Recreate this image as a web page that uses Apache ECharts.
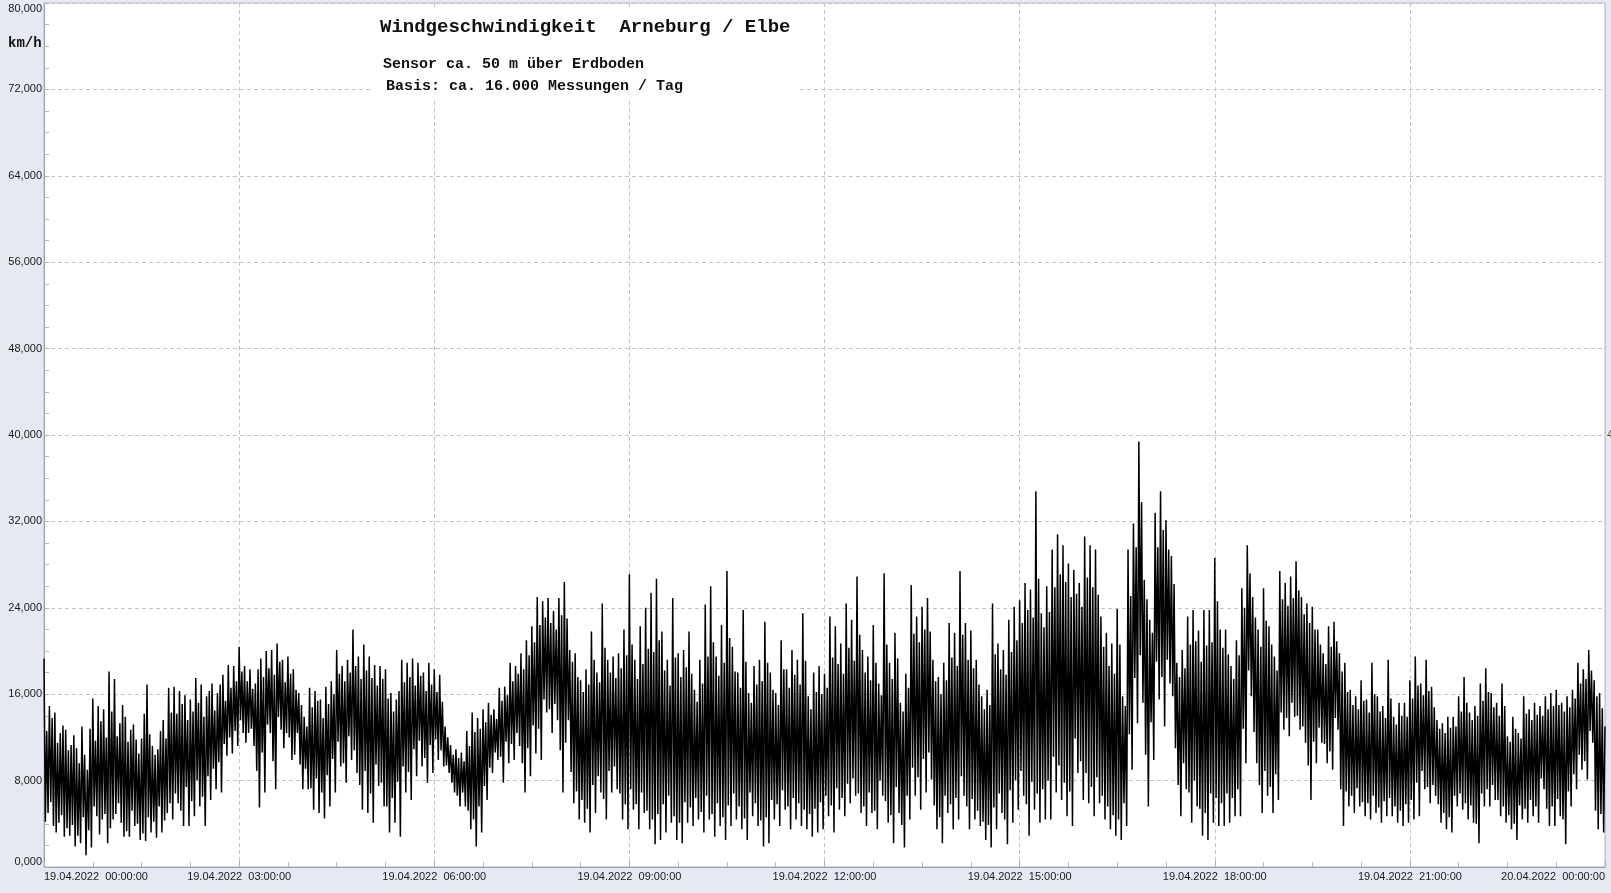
<!DOCTYPE html>
<html>
<head>
<meta charset="utf-8">
<script src="https://cdn.jsdelivr.net/npm/echarts@6/dist/echarts.min.js"></script>
<style>
html,body{margin:0;padding:0;background:#e6e9f1;}
#chart{width:1611px;height:893px;}
</style>
</head>
<body>
<div id="chart"></div>
<script>
// Wind speed km/h, 19.04.2022 00:00 -> 20.04.2022 00:00, one slot = 5 minutes
// hi / lo: highest / lowest excursion in each slot; hi2 / lo2: secondary excursions
const hi = [
19.3,14.9,14.3,12.4,12.7,11.3,11.0,13.0,9.0,15.6,14.9,14.6,
18.1,17.4,13.3,13.9,12.7,11.8,11.9,16.9,11.2,10.9,13.6,16.6,
16.7,16.3,15.9,15.5,17.5,16.9,15.8,17.0,16.1,17.8,18.7,18.6,
20.4,18.6,18.3,17.0,19.3,20.0,20.1,20.7,19.2,19.5,18.3,16.1,
13.9,16.6,16.3,15.5,16.7,17.2,20.1,18.6,19.2,22.0,19.5,20.6,
19.5,18.7,18.6,18.3,16.1,15.5,19.2,18.9,19.3,18.9,18.0,18.9,
18.3,17.8,13.0,11.3,10.9,10.6,12.6,14.3,13.8,14.6,15.2,14.6,
16.6,16.7,18.9,18.6,19.8,21.0,22.3,25.0,24.6,24.9,23.7,24.9,
26.4,20.1,19.8,17.3,18.3,21.8,18.0,24.4,19.2,19.5,19.8,22.0,
27.1,19.2,22.3,24.0,25.4,26.7,21.8,19.2,24.9,19.8,20.1,21.8,
16.4,19.2,24.3,26.0,19.5,22.4,27.4,20.4,18.0,23.8,16.1,18.6,
19.2,22.7,18.0,16.1,21.0,18.3,20.1,19.2,23.5,15.8,18.0,18.6,
17.9,23.2,22.3,20.7,24.4,22.9,26.9,20.1,19.5,22.4,17.0,27.2,
18.9,21.7,15.2,17.9,26.1,23.2,24.1,24.9,19.2,17.6,18.9,22.6,
21.7,27.4,22.6,21.9,19.2,15.8,16.4,24.4,20.7,20.1,22.9,24.1,
24.7,26.3,25.7,34.8,23.5,26.0,29.4,30.8,29.8,28.1,27.5,26.3,
30.6,29.8,29.4,23.2,21.7,20.7,23.9,15.8,29.4,31.8,39.4,26.6,
22.9,32.8,34.8,32.1,28.8,18.9,20.1,23.2,23.8,21.9,23.8,23.8,
28.6,22.0,22.0,18.6,21.0,25.8,29.8,25.0,22.0,25.8,22.3,19.5,
27.4,26.3,26.9,28.3,25.0,24.4,24.1,22.0,19.8,22.3,22.7,19.8,
18.9,16.4,15.8,17.3,15.5,18.9,15.8,14.9,19.2,13.9,15.2,15.2,
17.3,19.5,17.0,19.2,16.7,13.6,13.3,13.9,13.9,15.8,17.6,14.3,
14.9,17.0,18.4,16.1,15.2,17.0,12.1,13.9,12.4,15.8,14.6,15.2,
14.9,15.8,16.1,16.4,15.2,15.8,16.4,18.9,18.3,20.1,17.3,16.1,
13.0
];
const lo = [
5.0,3.8,4.1,2.8,2.9,1.9,2.2,1.1,1.8,4.7,4.4,2.2,
4.4,5.9,2.8,2.8,3.8,2.5,2.4,3.2,2.7,3.2,5.0,4.4,
5.9,3.8,3.8,4.7,5.6,3.8,6.2,7.2,6.9,10.3,10.5,11.2,
12.4,12.4,11.2,5.5,6.9,12.4,7.2,12.7,12.4,9.9,12.4,7.2,
7.2,5.3,5.0,4.5,5.6,6.9,9.3,7.8,9.9,8.7,5.3,5.0,
4.1,7.5,5.6,3.2,4.1,2.8,6.9,6.2,8.4,9.3,7.8,8.7,
9.9,9.3,8.7,6.9,5.6,5.6,3.5,1.9,3.2,6.2,8.7,9.9,
7.8,9.6,9.9,11.2,6.9,8.4,10.5,9.9,14.3,12.4,13.6,6.9,
13.6,5.9,4.4,4.1,3.2,5.0,6.9,4.4,6.9,7.2,4.4,3.5,
5.3,3.5,5.0,3.5,2.1,2.5,3.2,4.1,2.5,2.2,4.1,3.8,
4.4,3.2,4.4,2.8,3.8,2.5,3.8,4.4,3.5,2.5,4.7,3.8,
1.9,2.2,4.4,3.8,5.3,3.5,4.4,3.8,3.5,2.8,3.2,3.5,
4.7,3.2,5.3,4.7,5.9,6.6,5.0,3.8,5.0,3.5,6.6,4.1,
2.2,5.0,1.8,4.4,6.6,5.3,6.9,8.1,3.5,2.2,5.0,3.5,
4.4,6.6,3.5,4.4,3.8,2.5,1.8,3.5,5.0,2.1,4.1,5.3,
6.6,2.9,5.3,4.1,4.4,4.4,6.9,6.2,4.7,3.8,8.7,6.2,
5.9,4.7,5.9,4.4,3.5,2.9,2.5,3.8,9.0,13.3,15.2,5.6,
9.9,15.5,13.0,17.0,11.0,4.7,7.2,4.1,5.6,2.9,2.5,4.1,
3.8,3.8,4.1,4.7,4.7,9.6,15.8,9.6,5.0,6.6,5.0,6.2,
12.7,12.1,13.9,12.7,11.5,6.2,9.6,11.5,9.6,9.0,12.7,3.8,
5.6,5.0,5.6,4.7,4.4,5.0,4.1,4.7,4.7,4.1,3.8,4.1,
4.4,4.7,7.2,5.9,6.6,4.1,3.5,3.2,5.6,5.3,4.4,4.1,
2.2,5.6,5.6,6.2,4.7,4.1,3.5,2.5,4.4,4.1,4.7,4.1,
7.2,3.8,3.8,4.7,2.1,5.6,7.2,9.0,8.1,11.5,3.5,3.2
];
const hi2 = [
12.6,13.8,11.5,13.1,10.8,12.2,9.6,10.4,12.8,11.7,13.5,12.0,
14.4,12.1,15.0,11.6,13.2,10.5,14.2,12.3,10.4,12.6,11.9,14.3,
14.2,15.1,13.6,14.4,15.2,13.9,16.3,14.5,16.9,15.4,16.6,17.2,
18.1,17.2,16.5,18.3,17.6,18.4,17.8,19.0,17.1,17.9,16.4,15.0,
13.0,14.8,15.4,13.8,15.1,16.0,17.9,17.2,18.0,18.6,17.4,18.2,
17.5,16.8,17.4,15.6,14.4,16.3,17.1,17.6,16.8,17.7,16.3,16.9,
16.2,15.3,12.0,10.4,10.1,9.8,11.2,12.5,12.8,13.4,14.1,13.7,
15.4,15.9,17.2,17.9,18.3,19.6,20.8,22.4,23.1,22.6,22.0,23.3,
23.0,19.0,17.6,16.2,16.9,19.2,17.1,20.3,18.0,17.5,18.4,19.6,
20.6,17.4,18.8,20.2,19.9,21.0,18.2,16.8,19.4,17.6,18.5,17.9,
15.3,17.0,19.5,20.8,17.7,18.9,21.2,18.1,16.6,19.0,15.2,16.9,
17.2,18.9,16.4,15.0,18.3,16.6,17.8,16.9,19.1,14.6,16.2,16.0,
16.6,19.4,18.8,17.9,20.3,19.1,21.5,18.0,17.3,18.9,15.9,20.6,
17.4,19.3,14.4,16.6,21.6,20.8,22.0,21.8,17.2,16.0,17.3,19.4,
18.6,21.5,19.2,18.4,16.9,14.6,15.0,19.7,18.3,17.8,19.9,21.0,
22.6,23.8,23.1,26.7,22.2,23.6,25.9,27.1,26.4,25.0,25.3,24.1,
26.8,25.9,25.2,20.4,18.6,17.9,20.6,14.9,25.1,29.6,33.8,24.8,
21.7,29.6,31.2,29.4,26.2,17.6,18.4,20.6,20.9,19.0,20.5,20.8,
24.6,20.3,19.7,17.4,19.6,24.0,27.2,23.1,20.4,22.8,20.6,18.2,
24.8,24.2,24.9,25.6,23.4,22.6,22.0,20.6,18.8,20.4,20.9,18.1,
16.2,15.0,14.6,15.4,14.3,16.0,14.4,13.8,15.6,13.2,14.0,13.9,
15.6,16.8,15.9,16.3,14.8,12.8,12.4,12.9,13.0,14.4,15.2,13.6,
14.0,15.4,16.2,14.8,14.0,14.9,11.6,12.8,11.9,14.2,13.6,14.1,
14.0,14.6,14.9,15.0,14.4,14.8,15.6,17.0,17.4,18.2,15.8,14.7
];
const lo2 = [
4.2,6.0,3.2,4.8,3.6,3.9,2.9,4.6,3.4,5.6,3.0,4.9,
3.6,4.9,4.1,3.3,5.2,4.0,3.1,4.6,4.2,5.6,4.3,5.9,
6.8,5.2,7.4,6.1,8.0,6.5,8.4,9.1,9.7,11.4,12.0,12.6,
13.6,11.5,12.8,8.9,10.6,13.2,9.8,13.9,11.0,12.0,10.4,9.5,
9.1,7.3,8.2,6.9,8.5,10.0,11.6,9.6,12.1,10.8,7.6,8.9,
6.8,9.5,7.8,5.6,6.4,7.9,9.3,8.8,10.9,11.7,10.1,11.3,
11.8,10.8,9.4,7.8,6.6,6.9,5.2,4.4,5.6,7.5,9.2,10.6,
10.2,11.6,11.4,12.4,9.6,11.0,13.1,12.8,15.5,14.6,15.1,10.8,
11.5,8.8,7.0,6.2,5.4,7.6,8.4,6.3,8.9,9.3,6.8,5.8,
7.2,5.8,6.9,5.2,4.4,4.9,5.8,6.6,4.7,4.1,6.0,5.5,
6.4,5.1,6.6,4.9,5.9,4.6,5.7,6.8,5.6,4.5,6.9,5.9,
4.3,4.6,6.2,5.8,7.1,5.6,6.4,5.9,5.3,4.9,5.4,6.0,
6.6,5.7,7.3,6.4,7.7,8.2,6.8,5.6,6.9,5.2,8.0,6.1,
4.8,7.4,3.9,6.6,9.2,8.3,10.0,10.6,5.7,4.6,6.6,5.8,
6.4,8.4,5.6,6.3,5.2,4.2,3.9,5.5,6.8,4.4,7.1,8.0,
8.9,5.8,7.9,6.8,7.2,8.0,10.2,9.4,7.8,7.0,11.9,9.8,
8.7,7.4,8.3,6.6,5.6,4.8,4.4,5.9,12.3,17.5,19.6,10.4,
13.4,19.0,17.6,19.2,15.8,7.6,9.6,6.9,8.0,5.4,5.0,6.8,
6.4,5.9,6.8,6.4,7.2,12.8,18.2,12.5,7.6,8.9,7.4,8.6,
14.3,13.8,15.2,14.0,13.0,9.4,11.6,12.9,11.4,10.7,13.8,7.2,
7.0,6.6,7.3,6.0,5.9,6.6,5.5,6.1,6.4,5.6,5.2,5.8,
6.2,7.8,8.9,7.4,7.6,5.8,5.0,4.6,6.6,6.8,5.9,5.7,
4.0,6.8,7.2,7.6,6.2,5.6,4.8,4.0,5.7,5.4,6.2,5.6,
8.2,5.4,5.6,6.3,4.4,7.0,8.6,10.4,9.8,12.6,5.2,4.9
];
const xTickLabels = [
'19.04.2022  00:00:00','19.04.2022  03:00:00','19.04.2022  06:00:00',
'19.04.2022  09:00:00','19.04.2022  12:00:00','19.04.2022  15:00:00',
'19.04.2022  18:00:00','19.04.2022  21:00:00','20.04.2022  00:00:00'
];
const titleText = 'Windgeschwindigkeit  Arneburg / Elbe';
const subText1 = 'Sensor ca. 50 m über Erdboden';
const subText2 = 'Basis: ca. 16.000 Messungen / Tag';
const unitText = 'km/h';

// build the zig-zag trace (minutes since 19.04.2022 00:00)
const trace = [];
for (let i = 0; i < hi.length; i++) {
  trace.push([i * 5, hi[i]]);
  if (i < lo.length) {
    trace.push([i * 5 + 1.25, lo2[i]]);
    trace.push([i * 5 + 2.5, hi2[i]]);
    trace.push([i * 5 + 3.75, lo[i]]);
  }
}

const chart = echarts.init(document.getElementById('chart'), null, {renderer: 'canvas'});
const mono = '"Liberation Mono", "Courier New", monospace';
chart.setOption({
  backgroundColor: '#e6e9f1',
  animation: false,
  grid: {left: 44, right: 6, top: 3, bottom: 26, show: true, backgroundColor: '#ffffff', borderColor: '#b4b8c4', borderWidth: 1},
  xAxis: {
    type: 'value', min: 0, max: 1440, interval: 180,
    axisLine: {show: true, onZero: false, lineStyle: {color: '#9da1ab', width: 1}},
    axisTick: {show: true, inside: true, length: 6, lineStyle: {color: '#b0b0b0'}},
    minorTick: {show: true, splitNumber: 4, length: 5, lineStyle: {color: '#b8b8b8'}},
    splitLine: {show: true, lineStyle: {color: '#c4c4c4', type: [4, 3], width: 1}},
    axisLabel: {
      margin: 4, fontSize: 11, color: '#1a1a1a', fontFamily: '"Liberation Sans", Arial, sans-serif',
      alignMinLabel: 'left', alignMaxLabel: 'right',
      formatter: v => xTickLabels[Math.round(v / 180)]
    }
  },
  yAxis: {
    type: 'value', min: 0, max: 80, interval: 8,
    axisLine: {show: true, lineStyle: {color: '#9da1ab', width: 1}},
    axisTick: {show: true, inside: true, length: 5, lineStyle: {color: '#b0b0b0'}},
    minorTick: {show: true, splitNumber: 4, length: 5, lineStyle: {color: '#b8b8b8'}},
    splitLine: {show: true, lineStyle: {color: '#c4c4c4', type: [4, 3], width: 1}},
    axisLabel: {
      margin: 2, fontSize: 11, color: '#1a1a1a', fontFamily: '"Liberation Sans", Arial, sans-serif',
      verticalAlignMinLabel: 'bottom', verticalAlignMaxLabel: 'top',
      formatter: v => v.toFixed(3).replace('.', ',')
    }
  },
  series: [
    {type: 'line', data: trace, showSymbol: false, silent: true,
     lineStyle: {color: '#000000', width: 1.5}, z: 3}
  ],
  graphic: [
    {type: 'rect', shape: {x: 372, y: 8, width: 428, height: 92}, style: {fill: '#ffffff'}, z: 10, silent: true},
    {type: 'text', x: 380, y: 27, z: 11, style: {text: titleText, font: 'bold 19px ' + mono, fill: '#111', textVerticalAlign: 'middle'}},
    {type: 'text', x: 383, y: 64, z: 11, style: {text: subText1, font: 'bold 15px ' + mono, fill: '#111', textVerticalAlign: 'middle'}},
    {type: 'text', x: 386, y: 86, z: 11, style: {text: subText2, font: 'bold 15px ' + mono, fill: '#111', textVerticalAlign: 'middle'}},
    {type: 'text', x: 8, y: 43, z: 11, style: {text: unitText, font: 'bold 14px ' + mono, fill: '#111', textVerticalAlign: 'middle'}},
    {type: 'text', x: 1607, y: 435, z: 11, style: {text: '4', font: '11px "Liberation Sans", Arial', fill: '#6b4a1e', textVerticalAlign: 'middle'}}
  ]
});
</script>
</body>
</html>
